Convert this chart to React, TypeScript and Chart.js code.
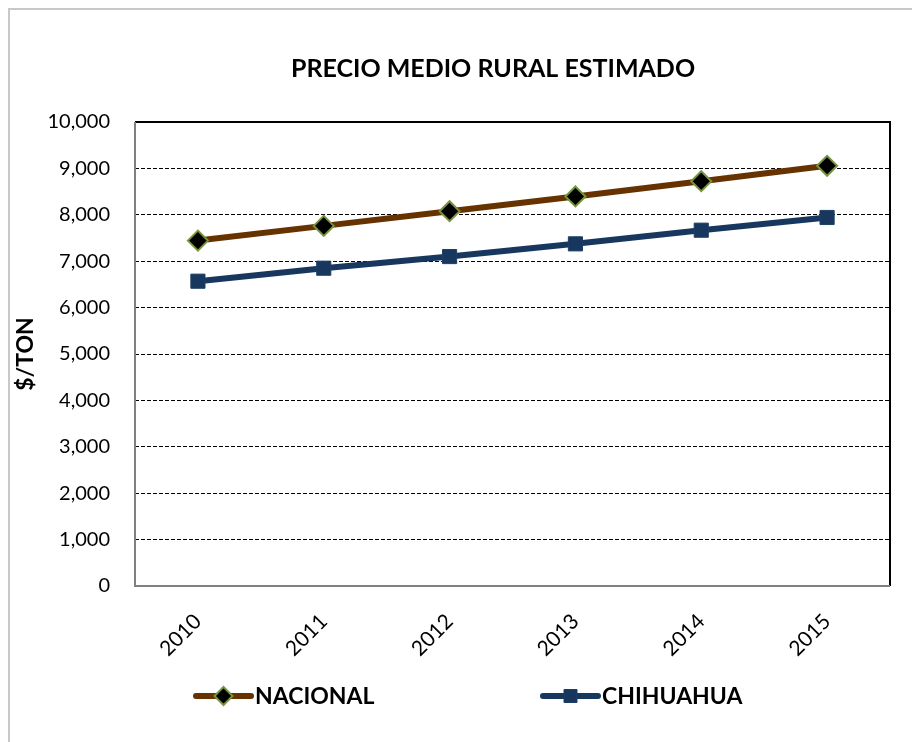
import React, { useEffect, useRef } from "react";
import { Chart, registerables } from "chart.js";

Chart.register(...registerables);

const years = ["2010", "2011", "2012", "2013", "2014", "2015"];
const nacional = [7444, 7761, 8078, 8396, 8724, 9056];
const chihuahua = [6569, 6849, 7100, 7374, 7668, 7942];
const yMin = 0;
const yMax = 10000;
const yStep = 1000;
const chartTitle = "PRECIO MEDIO RURAL ESTIMADO";
const yAxisTitle = "$/TON";
const seriesNames = ["NACIONAL", "CHIHUAHUA"];

const FONT = "Lato, 'Open Sans', sans-serif";

const decorPlugin = {
  id: "decor",
  beforeDraw(chart: any) {
    const ctx = chart.ctx;
    ctx.save();
    ctx.fillStyle = "#ffffff";
    ctx.fillRect(0, 0, chart.width, chart.height);
    ctx.strokeStyle = "#C8C8C8";
    ctx.lineWidth = 2;
    ctx.strokeRect(9, 9, chart.width + 10, chart.height + 10);
    ctx.restore();
  },
  beforeDatasetsDraw(chart: any) {
    const ctx = chart.ctx;
    const a = chart.chartArea;
    ctx.save();
    ctx.lineWidth = 2;
    ctx.strokeStyle = "#000000";
    ctx.beginPath();
    ctx.moveTo(a.left, a.top);
    ctx.lineTo(a.right, a.top);
    ctx.lineTo(a.right, a.bottom);
    ctx.stroke();
    ctx.strokeStyle = "#808080";
    ctx.beginPath();
    ctx.moveTo(a.left, a.top);
    ctx.lineTo(a.left, a.bottom);
    ctx.lineTo(a.right, a.bottom);
    ctx.stroke();
    ctx.restore();
  },
  afterDraw(chart: any) {
    const ctx = chart.ctx;
    ctx.save();
    // Title
    ctx.fillStyle = "#000000";
    ctx.font = `bold 25px ${FONT}`;
    ctx.textAlign = "center";
    ctx.textBaseline = "middle";
    ctx.fillText(chartTitle, 493, 69);
    // Y axis title
    ctx.save();
    ctx.translate(26, 354);
    ctx.rotate(-Math.PI / 2);
    ctx.font = `bold 23px ${FONT}`;
    ctx.fillText(yAxisTitle, 0, 0);
    ctx.restore();
    // Legend
    const items = [
      { x: 196, len: 55, ds: chart.data.datasets[0] },
      { x: 543, len: 55, ds: chart.data.datasets[1] },
    ];
    const ly = 696;
    items.forEach((it) => {
      const ds: any = it.ds;
      ctx.strokeStyle = ds.borderColor;
      ctx.lineWidth = 6;
      ctx.lineCap = "round";
      ctx.beginPath();
      ctx.moveTo(it.x, ly);
      ctx.lineTo(it.x + it.len, ly);
      ctx.stroke();
      ctx.lineCap = "butt";
      const mx = it.x + it.len / 2;
      ctx.fillStyle = ds.pointBackgroundColor;
      ctx.strokeStyle = ds.pointBorderColor;
      ctx.lineWidth = ds.pointBorderWidth;
      ctx.beginPath();
      if (ds.pointStyle === "rectRot") {
        const r = 9;
        ctx.moveTo(mx, ly - r);
        ctx.lineTo(mx + r, ly);
        ctx.lineTo(mx, ly + r);
        ctx.lineTo(mx - r, ly);
        ctx.closePath();
      } else {
        const s = 6.5;
        ctx.rect(mx - s, ly - s, 2 * s, 2 * s);
      }
      ctx.fill();
      ctx.stroke();
      ctx.fillStyle = "#000000";
      ctx.font = `bold 23px ${FONT}`;
      ctx.textAlign = "left";
      ctx.textBaseline = "middle";
      ctx.fillText(ds.label, it.x + it.len + 4, ly + 1);
    });
    ctx.restore();
  },
};

export default function App() {
  const ref = useRef<HTMLCanvasElement | null>(null);
  useEffect(() => {
    if (!ref.current) return;
    const chart = new Chart(ref.current, {
      type: "line",
      data: {
        labels: years,
        datasets: [
          {
            label: seriesNames[0],
            data: nacional,
            borderColor: "#663300",
            backgroundColor: "#663300",
            borderWidth: 6,
            pointStyle: "rectRot",
            pointRadius: 10,
            pointBackgroundColor: "#000000",
            pointBorderColor: "#77933C",
            pointBorderWidth: 2,
            tension: 0,
          },
          {
            label: seriesNames[1],
            data: chihuahua,
            borderColor: "#17375E",
            backgroundColor: "#17375E",
            borderWidth: 6,
            pointStyle: "rect",
            pointRadius: 10,
            pointBackgroundColor: "#17375E",
            pointBorderColor: "#1F3F66",
            pointBorderWidth: 1,
            tension: 0,
          },
        ],
      },
      options: {
        responsive: false,
        animation: false,
        layout: { padding: { left: 0, top: 122, right: 22, bottom: 0 } },
        plugins: {
          legend: { display: false },
          title: { display: false },
          tooltip: { enabled: false },
        },
        scales: {
          x: {
            type: "category",
            offset: true,
            grid: { display: false, drawTicks: false },
            border: { display: false },
            ticks: {
              color: "#000000",
              font: { family: FONT, size: 21 },
              maxRotation: 45,
              minRotation: 45,
              padding: 23,
            },
            afterFit(scale: any) {
              scale.height = 742 - 586;
            },
          },
          y: {
            min: yMin,
            max: yMax,
            border: { display: false, dash: [4, 2] },
            grid: {
              drawTicks: false,
              color: (c: any) =>
                c.tick && (c.tick.value === yMin || c.tick.value === yMax)
                  ? "rgba(0,0,0,0)"
                  : "#000000",
              lineWidth: 1,
            },
            ticks: {
              stepSize: yStep,
              color: "#000000",
              font: { family: FONT, size: 20 },
              padding: 25,
              callback: (v: any) => Number(v).toLocaleString("en-US"),
            },
            afterFit(scale: any) {
              scale.width = 135;
            },
          },
        },
      },
      plugins: [decorPlugin],
    } as any);
    return () => chart.destroy();
  }, []);
  return (
    <div style={{ position: "absolute", left: 0, top: 0, width: 912, height: 742 }}>
      <canvas ref={ref} width={912} height={742} style={{ width: 912, height: 742 }} />
    </div>
  );
}
